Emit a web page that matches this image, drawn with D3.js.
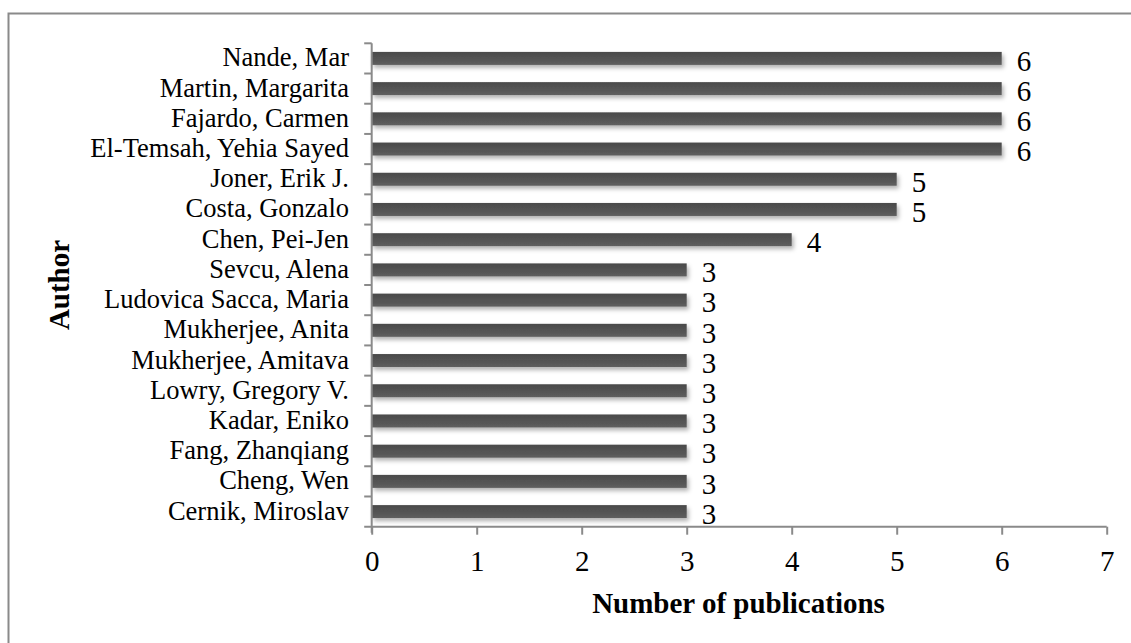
<!DOCTYPE html>
<html>
<head>
<meta charset="utf-8">
<script src="https://cdn.jsdelivr.net/npm/d3@7"></script>
<style>
  html, body { margin: 0; padding: 0; background: #ffffff; }
  svg { display: block; }
  text { font-family: "Liberation Serif", "Times New Roman", serif; fill: #000; }
</style>
</head>
<body>
<svg id="chart" width="1131" height="643"></svg>
<script>
// Authors, listed top to bottom
const authors = [
  "Nande, Mar",
  "Martin, Margarita",
  "Fajardo, Carmen",
  "El-Temsah, Yehia Sayed",
  "Joner, Erik J.",
  "Costa, Gonzalo",
  "Chen, Pei-Jen",
  "Sevcu, Alena",
  "Ludovica Sacca, Maria",
  "Mukherjee, Anita",
  "Mukherjee, Amitava",
  "Lowry, Gregory V.",
  "Kadar, Eniko",
  "Fang, Zhanqiang",
  "Cheng, Wen",
  "Cernik, Miroslav"
];
// Number of publications per author
const publications = [6, 6, 6, 6, 5, 5, 4, 3, 3, 3, 3, 3, 3, 3, 3, 3];
// Tick values on the count axis
const xTicks = [0, 1, 2, 3, 4, 5, 6, 7];

const xTitle = "Number of publications";
const yTitle = "Author";

const data = authors.map((a, i) => ({ author: a, value: publications[i] }));

const svg = d3.select("#chart");
const axisColor = "#8a8a8a";

// Outer frame
svg.append("rect")
  .attr("x", 8.5).attr("y", 13.5)
  .attr("width", 1140).attr("height", 660)
  .attr("fill", "none")
  .attr("stroke", axisColor)
  .attr("stroke-width", 2);

const defs = svg.append("defs");
const grad = defs.append("linearGradient")
  .attr("id", "barFill")
  .attr("x1", 0).attr("y1", 0).attr("x2", 0).attr("y2", 1);
grad.append("stop").attr("offset", "0%").attr("stop-color", "#4a4a4a");
grad.append("stop").attr("offset", "60%").attr("stop-color", "#555555");
grad.append("stop").attr("offset", "100%").attr("stop-color", "#5f5f5f");

const shadow = defs.append("filter")
  .attr("id", "barShadow")
  .attr("x", "-5%").attr("y", "-50%")
  .attr("width", "110%").attr("height", "250%");
shadow.append("feDropShadow")
  .attr("dx", 2).attr("dy", 3)
  .attr("stdDeviation", 2)
  .attr("flood-color", "#000")
  .attr("flood-opacity", 0.3);

const plotLeft = 371.7, plotRight = 1106.7, plotTop = 43.3, plotBottom = 526.7;

const x = d3.scaleLinear().domain([0, 7]).range([plotLeft, plotRight]);
const y = d3.scaleBand().domain(authors).range([plotTop, plotBottom])
  .paddingInner(0.57).paddingOuter(0.285);
// Band edges for the category tick marks
const yEdge = d3.scaleBand().domain(authors).range([plotTop, plotBottom]).padding(0);

// Bars
svg.append("g")
  .selectAll("rect")
  .data(data)
  .join("rect")
  .attr("x", x(0))
  .attr("y", d => y(d.author))
  .attr("width", d => x(d.value) - x(0))
  .attr("height", y.bandwidth())
  .attr("fill", "url(#barFill)")
  .attr("filter", "url(#barShadow)");

// Value labels
svg.append("g")
  .selectAll("text")
  .data(data)
  .join("text")
  .attr("x", d => x(d.value) + 15)
  .attr("y", d => y(d.author) + y.bandwidth() / 2 + 12.3)
  .attr("font-size", 29)
  .text(d => d.value);

// X axis
const xAxis = svg.append("g")
  .attr("transform", `translate(0,${plotBottom})`)
  .call(d3.axisBottom(x).tickValues(xTicks).tickFormat(d3.format("d")).tickSize(8).tickPadding(0));
xAxis.select(".domain").remove();
xAxis.selectAll(".tick line").attr("stroke", axisColor).attr("stroke-width", 2);
xAxis.selectAll(".tick text")
  .attr("font-family", "Liberation Serif, Times New Roman, serif")
  .attr("font-size", 29)
  .attr("fill", "#000")
  .attr("dy", null)
  .attr("y", 44.8);
xAxis.append("line")
  .attr("x1", plotLeft - 7.5).attr("x2", plotRight)
  .attr("y1", 0).attr("y2", 0)
  .attr("stroke", axisColor).attr("stroke-width", 2);

// Y axis
const yg = svg.append("g");
yg.append("line")
  .attr("x1", plotLeft).attr("x2", plotLeft)
  .attr("y1", plotTop).attr("y2", plotBottom + 6)
  .attr("stroke", axisColor).attr("stroke-width", 2);
yg.selectAll("line.edge")
  .data(authors)
  .join("line")
  .attr("class", "edge")
  .attr("x1", plotLeft - 7.5).attr("x2", plotLeft)
  .attr("y1", d => yEdge(d)).attr("y2", d => yEdge(d))
  .attr("stroke", axisColor).attr("stroke-width", 2);
yg.selectAll("text")
  .data(authors)
  .join("text")
  .attr("x", 349)
  .attr("y", d => yEdge(d) + yEdge.bandwidth() / 2 + 8)
  .attr("text-anchor", "end")
  .attr("font-size", 26.5)
  .text(d => d);

// Axis titles
svg.append("text")
  .attr("x", 738.5).attr("y", 613)
  .attr("text-anchor", "middle")
  .attr("font-size", 29)
  .attr("font-weight", "bold")
  .text(xTitle);

svg.append("text")
  .attr("transform", `translate(69,${(plotTop + plotBottom) / 2}) rotate(-90)`)
  .attr("text-anchor", "middle")
  .attr("font-size", 29)
  .attr("font-weight", "bold")
  .text(yTitle);
</script>
</body>
</html>
